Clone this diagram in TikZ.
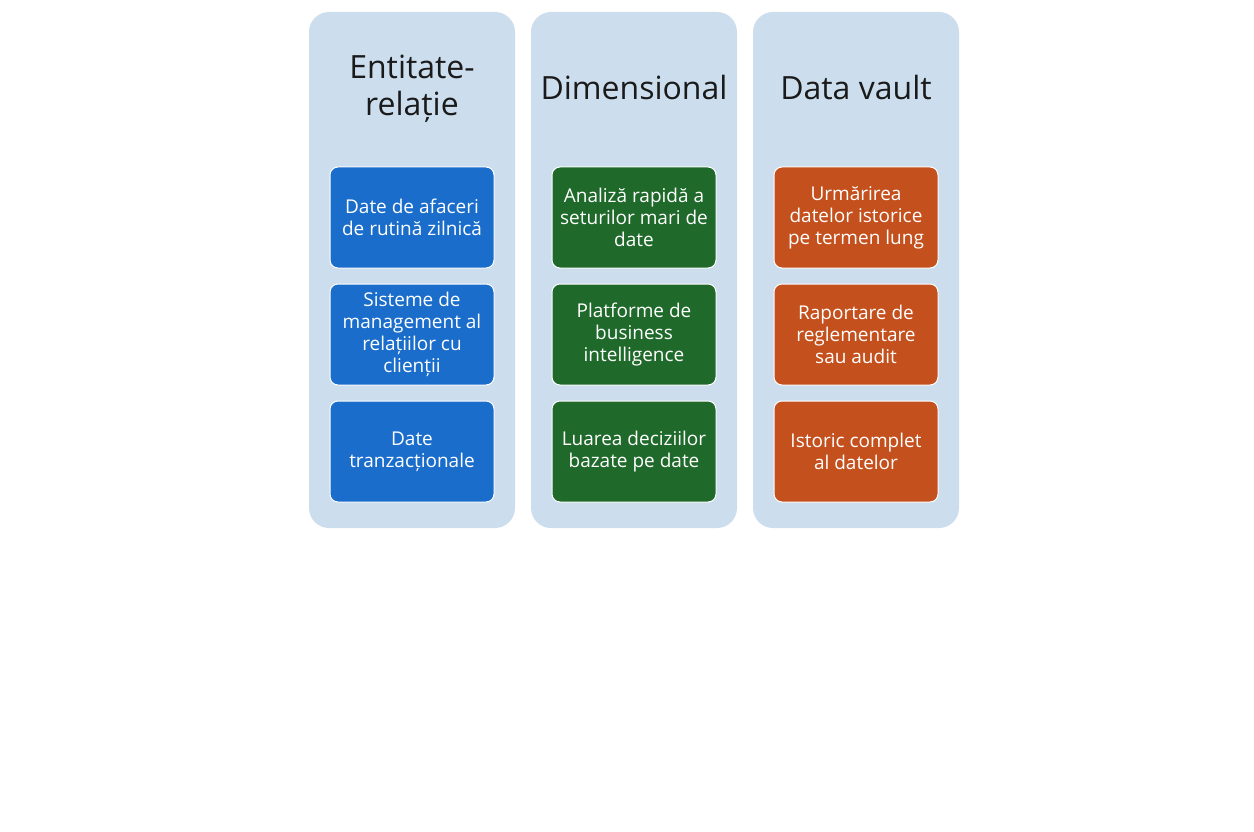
\documentclass[tikz,border=0pt]{standalone}
\usepackage{fontspec}
\setmainfont{Open Sans}
\definecolor{colbg}{HTML}{CCDEEE}
\definecolor{erblue}{HTML}{1A6DCB}
\definecolor{dimgreen}{HTML}{1F6A2A}
\definecolor{dvorange}{HTML}{C4501D}
\definecolor{titleink}{HTML}{1A1A1A}
\tikzset{
  column/.style={fill=colbg, draw=none, rounded corners=20pt},
  coltitle/.style={text=titleink, font=\fontsize{32}{37}\selectfont, align=center},
  itembox/.style={draw=white, line width=1pt, rounded corners=8pt, minimum width=164pt, minimum height=101pt,
    text=white, font=\fontsize{19}{22}\selectfont, align=center, inner sep=0pt},
  erbox/.style={itembox, fill=erblue},
  dimbox/.style={itembox, fill=dimgreen},
  dvbox/.style={itembox, fill=dvorange}
}
\begin{document}
\begin{tikzpicture}[x=1pt, y=-1pt]
  \useasboundingbox[fill=white] (0,0) rectangle (1254,832);
  % three column panels
  \node[column, minimum width=206pt, minimum height=516pt, inner sep=0pt] (colA) at (412,270) {};
  \node[column, minimum width=206pt, minimum height=516pt, inner sep=0pt] (colB) at (634,270) {};
  \node[column, minimum width=206pt, minimum height=516pt, inner sep=0pt] (colC) at (856,270) {};
  % titles
  \node[coltitle] (tA) at (412,89) {Entitate-\\relație};
  \node[coltitle] (tB) at (634,88) {Dimensional};
  \node[coltitle] (tC) at (856,88) {Data vault};
  % entity-relationship items
  \node[erbox] (a1) at (412,217.5) {Date de afaceri\\de rutină zilnică};
  \node[erbox] (a2) at (412,334.5) {Sisteme de\\management al\\relațiilor cu\\clienții};
  \node[erbox] (a3) at (412,451.5) {Date\\tranzacționale};
  % dimensional items
  \node[dimbox] (b1) at (634,217.5) {Analiză rapidă a\\seturilor mari de\\date};
  \node[dimbox] (b2) at (634,334.5) {Platforme de\\business\\intelligence};
  \node[dimbox] (b3) at (634,451.5) {Luarea deciziilor\\bazate pe date};
  % data vault items
  \node[dvbox] (c1) at (856,217.5) {Urmărirea\\datelor istorice\\pe termen lung};
  \node[dvbox] (c2) at (856,334.5) {Raportare de\\reglementare\\sau audit};
  \node[dvbox] (c3) at (856,451.5) {Istoric complet\\al datelor};
\end{tikzpicture}
\end{document}
